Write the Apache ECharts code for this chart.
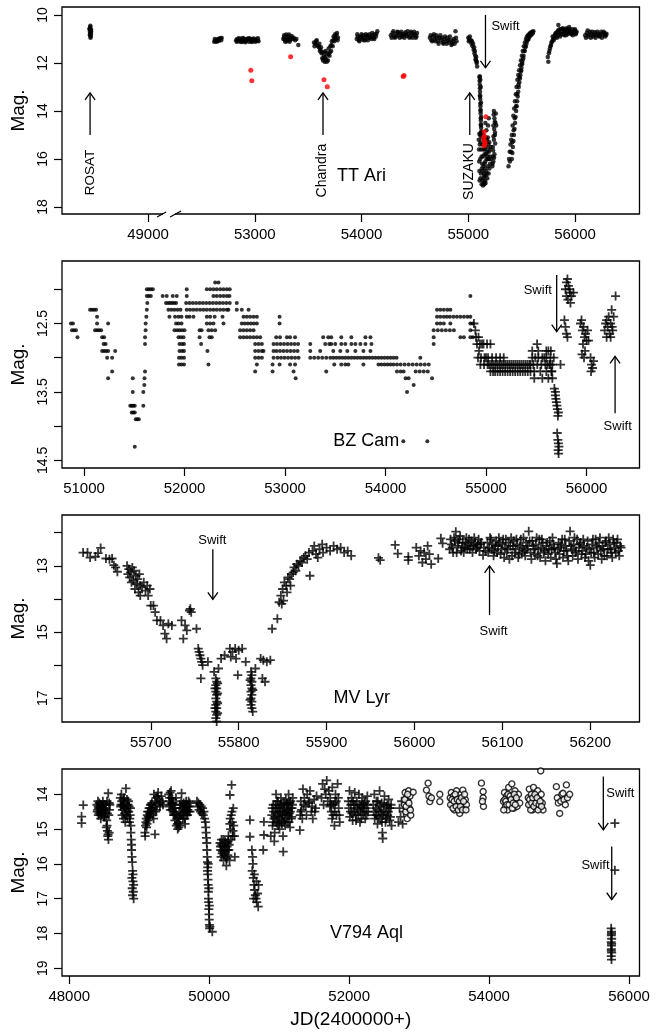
<!DOCTYPE html>
<html>
<head>
<meta charset="utf-8">
<script src="https://cdn.jsdelivr.net/npm/echarts@6/dist/echarts.min.js"></script>
<style>
html, body { margin: 0; padding: 0; background: #fff; }
#main { width: 661px; height: 1034px; }
</style>
</head>
<body>
<div id="main"></div>
<script>
// TT Ari (JD, mag)
var ttAri = [
  [48452,10.6],[48455,10.7],[48458,10.5],[48460,10.65],[48462,10.75],[48465,10.6],[48457,10.85],[48463,10.9],[48460,10.45],[48467,10.7],[48454,10.55],[48461,10.95],[48456,10.8],[48459,10.6],[48464,10.8],
  [52620,11.12],[52630,11.08],[52640,11.05],[52650,11.02],[52660,11.0],[52670,10.98],[52680,10.97],[52690,10.96],[52635,11.1],[52655,11.05],[52625,11.0],[52645,11.12],[52665,11.08],[52685,11.05],
  [52825,11.05],[52835,11.0],[52845,11.1],[52855,11.02],[52865,11.08],[52875,10.98],[52885,11.12],[52895,11.04],[52905,11.0],[52915,11.1],[52925,11.06],[52935,10.98],[52945,11.12],[52955,11.02],[52965,11.08],[52975,11.0],[52985,11.1],[52995,11.05],[53005,11.12],[53015,11.0],[53025,11.08],[53035,11.1],
  [52830,11.12],[52850,10.97],[52870,11.13],[52890,10.96],[52910,11.14],[52930,11.0],[52950,10.97],[52970,11.13],[52990,10.98],[53010,11.05],[53030,10.97],
  [53268,11.0],[53275,10.85],[53282,11.05],[53290,10.9],[53298,11.1],[53305,10.95],[53312,11.0],[53320,10.82],[53330,11.05],[53340,10.95],[53355,11.0],[53365,10.95],[53378,11.05],[53390,11.0],[53408,11.25],
  [53272,10.95],[53286,11.12],[53294,10.82],[53302,11.05],[53316,10.9],[53326,11.12],[53345,10.88],
  [53555,11.15],[53565,11.2],[53575,11.1],[53585,11.25],[53595,11.3],[53605,11.2],[53615,11.45],[53625,11.6],[53632,11.8],[53640,11.9],[53648,11.7],[53655,11.95],[53662,11.5],[53670,11.85],[53678,11.6],[53685,11.9],[53692,11.4],[53700,11.7],[53708,11.3],[53715,11.5],[53722,11.1],[53730,11.3],[53738,10.9],[53745,11.1],[53752,10.8],[53760,11.0],[53770,10.75],[53780,10.95],[53650,11.55],[53620,11.35],
  [53560,11.3],[53580,11.05],[53600,11.35],[53610,11.5],[53630,11.55],[53645,11.8],[53660,11.75],[53675,11.95],[53690,11.65],[53705,11.55],[53718,11.25],[53735,11.05],[53748,10.95],[53765,10.85],[53775,11.05],
  [53955,11.0],[53965,10.9],[53975,11.05],[53985,10.95],[53995,10.9],[54005,11.0],[54015,10.85],[54025,10.95],[54035,11.05],[54045,10.9],[54055,10.85],[54065,10.95],[54075,10.8],[54085,10.9],[54095,11.0],[54105,10.85],[54115,10.95],[54125,10.8],[54135,10.9],[54148,10.68],
  [53960,10.8],[53980,11.1],[54000,10.8],[54020,11.05],[54040,10.8],[54060,11.05],[54080,10.95],[54100,10.75],[54120,11.0],[54140,10.78],
  [54275,10.85],[54290,10.75],[54305,10.9],[54320,10.8],[54335,10.7],[54350,10.85],[54365,10.78],[54380,10.92],[54395,10.8],[54410,10.72],[54425,10.88],[54440,10.8],[54455,10.9],[54470,10.75],[54485,10.85],[54500,10.8],[54515,10.9],
  [54282,10.95],[54298,10.68],[54312,10.95],[54328,10.9],[54342,10.72],[54358,10.95],[54372,10.7],[54388,10.85],[54402,10.95],[54418,10.82],[54432,10.68],[54448,10.95],[54462,10.7],[54478,10.95],[54492,10.7],[54508,10.95],[54520,10.75],
  [54640,10.95],[54655,11.05],[54670,10.9],[54685,11.0],[54700,10.85],[54715,11.1],[54730,10.95],[54745,11.05],[54760,11.15],[54775,11.0],[54790,11.1],[54805,10.95],[54820,11.15],[54835,11.05],[54850,11.2],[54865,11.0],[54880,10.68],[54890,11.1],
  [54648,10.85],[54662,11.1],[54678,10.8],[54692,11.1],[54708,10.95],[54722,11.2],[54738,10.85],[54752,10.95],[54768,11.2],[54782,10.9],[54798,11.2],[54812,11.05],[54828,10.9],[54842,11.25],[54858,11.1],[54872,11.2],[54885,10.95],
  [55000,10.95],[55010,11.0],[55020,11.1],[55030,11.2],[55040,11.3],[55050,11.45],[55058,11.6],[55065,11.7],[55072,11.9],[55078,12.0],[55083,12.15],[55025,11.05],[55045,11.2],
  [55005,11.1],[55015,10.9],[55035,11.1],[55055,11.35],[55062,11.5],[55068,11.85],[55075,11.75],[55080,11.95],
  [55105,12.6],[55108,12.9],[55110,13.2],[55112,13.5],[55114,13.8],[55116,14.1],[55118,14.4],[55120,14.7],[55113,12.7],[55117,13.0],[55110,13.35],[55119,13.65],[55115,13.95],[55121,14.25],[55118,14.55],[55122,14.85],
  [55106,12.75],[55109,13.05],[55111,13.4],[55113,13.7],[55115,14.0],[55117,14.3],[55119,14.6],[55121,14.9],[55108,12.55],
  [55110,15.0],[55115,15.3],[55120,15.6],[55125,15.9],[55130,16.2],[55135,16.5],[55140,16.8],[55145,17.0],[55150,16.7],[55155,16.4],[55160,16.1],[55165,15.8],[55170,15.5],[55175,15.2],[55180,15.9],[55185,16.3],[55190,16.6],[55195,16.0],[55200,15.6],[55205,16.2],[55112,16.0],[55118,16.6],[55125,17.05],[55132,15.4],[55138,15.9],[55143,16.3],[55148,15.2],[55158,16.9],[55168,16.5],[55178,16.8],[55188,15.4],[55198,16.4],[55128,14.9],[55142,15.6],[55152,15.8],[55162,15.1],[55172,16.0],
  [55098,15.2],[55100,15.6],[55102,16.1],[55104,16.5],[55106,16.9],[55108,15.4],[55122,15.1],[55127,16.4],[55133,16.9],[55137,15.0],[55147,16.6],[55153,16.2],[55157,15.6],[55163,16.7],[55167,15.3],[55173,16.6],[55177,15.7],[55183,15.1],[55187,16.0],[55193,15.7],[55197,15.3],[55203,15.9],[55208,15.5],[55212,16.0],[55138,17.1],[55150,17.05],[55162,17.0],[55115,16.8],[55104,14.95],[55170,14.8],[55185,14.6],[55160,14.5],[55192,14.3],
  [55240,14.0],[55245,14.3],[55235,14.6],[55250,14.9],[55240,15.2],[55230,15.5],[55245,15.8],[55235,16.1],[55225,16.3],[55250,15.0],[55255,14.5],[55232,15.9],
  [55238,14.15],[55248,14.45],[55242,14.75],[55236,15.05],[55252,15.35],[55233,15.65],[55242,15.95],[55228,16.2],[55258,14.1],[55262,14.6],
  [55377,16.3],[55382,16.0],[55388,15.7],[55395,15.4],[55402,15.2],[55408,15.0],[55415,14.6],[55422,14.2],[55430,13.9],[55437,13.6],[55445,13.3],[55452,13.0],[55460,12.7],[55468,12.5],[55476,12.3],[55485,12.1],[55493,11.9],[55502,11.7],[55510,11.5],[55520,11.3],[55530,11.15],[55540,11.0],[55550,10.9],[55560,10.85],[55570,10.8],[55580,10.75],[55590,10.72],[55600,10.7],[55610,10.68],
  [55390,16.1],[55400,15.7],[55412,15.3],[55425,14.8],[55435,14.3],[55448,13.8],[55458,13.3],[55470,12.9],[55480,12.6],[55495,12.3],[55505,12.0],[55515,11.8],[55525,11.5],[55535,11.35],[55545,11.2],[55555,11.05],[55565,11.0],[55575,10.9],[55585,10.85],[55595,10.8],[55605,10.75],
  [55408,16.0],[55418,15.5],[55428,15.0],[55438,14.5],[55448,14.0],[55458,13.6],[55468,13.2],[55478,12.8],[55488,12.5],[55498,12.2],[55508,11.9],[55518,11.7],[55528,11.5],[55538,11.3],[55548,11.1],[55558,11.0],[55568,10.9],[55578,10.8],
  [55413,15.75],[55423,15.25],[55433,14.75],[55443,14.25],[55453,13.8],[55463,13.4],[55473,13.0],[55483,12.65],[55493,12.35],[55503,12.05],
  [55745,11.75],[55750,11.95],[55755,11.6],[55765,11.4],[55775,11.25],[55785,11.1],[55795,11.0],[55805,10.95],[55815,10.8],[55825,10.9],[55835,10.7],[55844,10.42],[55845,10.85],[55855,10.6],[55865,10.8],[55875,10.7],[55885,10.55],[55895,10.75],[55905,10.65],[55915,10.85],[55925,10.6],[55935,10.75],[55945,10.5],[55955,10.7],[55965,10.8],[55975,10.6],[55985,10.75],[55995,10.65],[56005,10.8],[56015,10.7],
  [55760,11.5],[55770,11.3],[55780,11.15],[55790,10.9],[55800,11.05],[55810,10.85],[55820,10.75],[55830,10.95],[55840,10.65],[55850,10.75],[55860,10.9],[55870,10.6],[55880,10.8],[55890,10.6],[55900,10.85],[55910,10.7],[55920,10.55],[55930,10.8],[55940,10.65],[55950,10.6],[55960,10.75],[55970,10.7],[55980,10.85],[55990,10.7],[56000,10.6],[56010,10.75],
  [56095,10.85],[56110,10.75],[56125,10.9],[56140,10.7],[56155,10.8],[56170,10.9],[56185,10.72],[56200,10.85],[56215,10.78],[56230,10.9],[56245,10.7],[56260,10.82],[56275,10.75],[56290,10.85],
  [56102,10.95],[56118,10.65],[56132,10.82],[56148,10.95],[56162,10.7],[56178,10.82],[56192,10.95],[56208,10.7],[56222,10.88],[56238,10.8],[56252,10.95],[56268,10.7],[56282,10.9],[56295,10.78]
];
var ttAriRed = [
  [52963,12.3],[52972,12.74],[53336,11.74],[53648,12.7],[53679,12.99],[54390,12.56],[54398,12.52],
  [55165,14.24],[55150,14.86],[55145,15.1],[55150,15.25],[55155,15.4],[55148,15.45],[55158,15.3],[55152,15.05]
];

// BZ Cam
var bzCamDots = [
  [50870,12.5],[50890,12.5],[50880,12.6],[50900,12.6],[50920,12.6],[50935,12.7],
  [51060,12.3],[51080,12.3],[51100,12.3],[51120,12.3],[51130,12.4],[51130,12.5],[51240,12.5],[51110,12.6],[51130,12.6],[51150,12.6],[51170,12.6],[51180,12.7],[51200,12.7],[51195,12.8],[51215,12.8],[51180,12.9],[51200,12.9],[51220,12.9],[51240,12.9],[51230,13.0],[51280,13.0],[51310,12.9],[51280,13.2],[51240,13.3],
  [51485,13.3],[51485,13.5],[51460,13.7],[51475,13.7],[51490,13.7],[51505,13.7],[51475,13.8],[51490,13.8],[51505,13.8],[51515,13.9],[51530,13.9],[51545,13.9],[51505,14.3],[51590,13.7],[51590,13.5],[51600,13.4],[51602,13.3],[51607,13.2],
  [51607,12.8],[51607,12.7],[51613,12.6],[51613,12.5],[51620,12.4],[51625,12.3],[51630,12.2],[51625,12.0],[51645,12.0],[51665,12.0],[51685,12.0],[51625,12.1],[51645,12.1],[51665,12.1],
  [51783,12.1],[51823,12.1],[51883,12.1],[51923,12.1],[51816,12.2],[51836,12.2],[51856,12.2],[51876,12.2],[51896,12.2],[51916,12.2],[51840,12.3],[51870,12.3],[51900,12.3],[51930,12.3],[51960,12.3],[51850,12.4],[51906,12.4],[51940,12.4],[51970,12.4],[51916,12.5],[51940,12.5],[51970,12.5],[51900,12.6],[51926,12.6],[51950,12.6],[51975,12.6],[52000,12.6],[51940,12.7],[51965,12.7],[51990,12.7],[51950,12.8],[51975,12.8],[51995,12.8],[51950,12.9],[51975,12.9],[51995,12.9],[51945,13.0],[51970,13.0],[51995,13.0],[51945,13.1],[51970,13.1],[51995,13.1],
  [52305,11.9],[52338,11.9],
  [52022,12.0],[52222,12.0],[52255,12.0],[52288,12.0],[52321,12.0],[52355,12.0],[52388,12.0],[52421,12.0],[52450,12.0],
  [52022,12.1],[52288,12.1],[52321,12.1],[52355,12.1],[52388,12.1],[52421,12.1],[52447,12.1],
  [52016,12.2],[52050,12.2],[52083,12.2],[52116,12.2],[52150,12.2],[52183,12.2],[52216,12.2],[52250,12.2],[52283,12.2],[52316,12.2],[52350,12.2],[52383,12.2],[52416,12.2],[52450,12.2],
  [52022,12.3],[52055,12.3],[52088,12.3],[52121,12.3],[52155,12.3],[52188,12.3],[52221,12.3],[52255,12.3],[52288,12.3],[52321,12.3],[52355,12.3],[52388,12.3],[52421,12.3],[52437,12.3],
  [52022,12.4],[52050,12.4],[52089,12.4],[52222,12.4],[52255,12.4],[52300,12.4],[52378,12.4],
  [52222,12.5],[52255,12.5],[52288,12.5],[52388,12.5],
  [52150,12.6],[52170,12.6],[52238,12.6],[52271,12.6],[52305,12.6],
  [52150,12.7],[52248,12.7],[52271,12.7],[52165,12.8],[52228,12.9],[52238,13.1],
  [52520,12.2],[52520,12.3],[52570,12.3],[52637,12.3],
  [52587,12.4],[52620,12.4],[52653,12.4],[52687,12.4],[52720,12.4],
  [52570,12.5],[52600,12.5],[52630,12.5],[52660,12.5],[52690,12.5],[52720,12.5],
  [52553,12.6],[52587,12.6],[52620,12.6],[52653,12.6],[52687,12.6],
  [52553,12.7],[52587,12.7],[52620,12.7],[52653,12.7],[52687,12.7],[52720,12.7],[52753,12.7],
  [52703,12.8],[52737,12.8],[52770,12.8],[52703,12.9],[52737,12.9],[52770,12.9],[52786,12.9],
  [52703,13.0],[52737,13.0],[52770,13.0],[52720,13.1],[52703,13.2],
  [52946,12.4],[52946,12.5],
  [52912,12.7],[52950,12.7],[53019,12.7],[53050,12.7],[53100,12.7],
  [52886,12.8],[52920,12.8],[52955,12.8],[52990,12.8],[53025,12.8],[53060,12.8],[53095,12.8],[53130,12.8],
  [52886,12.9],[52915,12.9],[52950,12.9],[52985,12.9],[53020,12.9],[53055,12.9],[53090,12.9],[53125,12.9],
  [52886,13.0],[52925,13.0],[52960,13.0],[52995,13.0],[53030,13.0],[53065,13.0],[53100,13.0],[53135,13.0],
  [52876,13.1],[52946,13.1],[53050,13.1],[53100,13.1],[52876,13.2],[53085,13.2],[53106,13.3],
  [53380,12.7],[53430,12.7],[53251,12.8],[53400,12.8],[53440,12.8],[53251,12.9],[53350,12.9],
  [53251,13.0],[53290,13.0],[53330,13.0],[53370,13.0],[53410,13.0],[53450,13.0],[53410,13.2],
  [53460,12.7],[53560,12.7],[53660,12.7],[53800,12.7],[53850,12.7],
  [53460,12.8],[53500,12.8],[53560,12.8],[53600,12.8],[53660,12.8],[53700,12.8],[53750,12.8],[53800,12.8],[53860,12.8],
  [53480,12.9],[53550,12.9],[53620,12.9],[53700,12.9],[53780,12.9],[53850,12.9],
  [53480,13.0],[53510,13.0],[53540,13.0],[53570,13.0],[53600,13.0],[53630,13.0],[53660,13.0],[53690,13.0],[53720,13.0],[53750,13.0],[53780,13.0],[53810,13.0],[53840,13.0],[53870,13.0],[53900,13.0],[53930,13.0],[53960,13.0],[53990,13.0],[54020,13.0],[54050,13.0],[54080,13.0],[54110,13.0],[54346,13.0],
  [53490,13.1],[53560,13.1],[53600,13.1],[53630,13.1],[53780,13.1],[53930,13.1],[53960,13.1],[53990,13.1],[54020,13.1],[54050,13.1],[54080,13.1],[54114,13.1],[54150,13.1],[54190,13.1],[54230,13.1],[54270,13.1],[54310,13.1],[54350,13.1],[54390,13.1],[54430,13.1],
  [54114,13.2],[54150,13.2],[54180,13.2],[54300,13.2],[54340,13.2],[54380,13.2],[54420,13.2],
  [54200,13.3],[54230,13.3],[54463,13.3],[54280,13.4],[54214,13.5],
  [54177,14.22],[54416,14.22],
  [54844,12.1],
  [54512,12.3],[54545,12.3],[54580,12.3],[54615,12.3],[54645,12.3],
  [54512,12.4],[54545,12.4],[54580,12.4],[54610,12.4],[54640,12.4],[54675,12.4],[54710,12.4],[54745,12.4],[54780,12.4],[54815,12.4],[54844,12.4],
  [54512,12.5],[54545,12.5],[54580,12.5],[54645,12.5],[54844,12.5],[54870,12.5],
  [54479,12.6],[54520,12.6],[54560,12.6],[54600,12.6],[54640,12.6],[54680,12.6],[54844,12.6],
  [54479,12.7],[54745,12.7],[54780,12.7],[54844,12.7],[54870,12.7],[54479,12.8]
];
var bzCamPlus = [
  [54894,12.6],[54880,12.5],[54900,12.7],
  [54910,12.8],[54940,12.8],[54975,12.8],[55010,12.8],[55044,12.8],[54930,12.9],[54960,12.8],[54925,12.7],
  [54920,13.0],[54950,13.0],[54985,13.0],[55020,13.0],[55060,13.0],[55100,13.0],[55140,13.0],[55176,13.0],[55000,13.0],
  [54944,13.1],[54980,13.1],[55015,13.1],[55050,13.1],[55090,13.1],[55130,13.1],[55170,13.1],[55210,13.1],[55250,13.1],[55290,13.1],[55330,13.1],[55370,13.1],[55410,13.1],[55442,13.1],
  [55030,13.1],[55070,13.1],[55110,13.1],[55150,13.1],[55190,13.1],[55230,13.1],[55270,13.1],[55310,13.1],[55350,13.1],[55390,13.1],[55430,13.1],
  [55044,13.2],[55090,13.2],[55140,13.2],[55190,13.2],[55240,13.2],[55290,13.2],[55340,13.2],[55390,13.2],[55442,13.2],
  [55070,13.2],[55115,13.2],[55165,13.2],[55215,13.2],[55265,13.2],[55315,13.2],[55365,13.2],[55415,13.2],
  [55460,13.0],[55490,13.0],[55520,13.0],[55560,13.0],[55600,13.0],[55640,13.0],[55674,13.0],[55580,13.0],
  [55470,13.1],[55510,13.1],[55550,13.1],[55590,13.1],[55630,13.1],[55660,13.1],[55610,13.1],[55640,13.1],
  [55480,13.2],[55540,13.2],[55600,13.2],[55650,13.2],[55655,13.2],[55508,12.8],[55480,13.3],[55560,13.3],[55620,13.3],[55660,13.3],[55741,13.1],
  [55460,12.9],[55520,12.9],[55620,12.9],[55600,12.9],[55645,12.9],
  [55680,13.45],[55690,13.5],[55695,13.6],[55700,13.65],[55705,13.7],[55710,13.75],[55715,13.85],[55720,13.8],[55690,13.55],
  [55708,14.1],[55715,14.2],[55720,14.25],[55725,14.3],[55718,14.35],[55722,14.4],
  [55800,11.9],[55810,11.85],[55820,11.95],[55790,12.0],[55830,12.0],[55835,12.05],[55800,12.1],[55815,12.15],[55840,12.2],[55850,12.1],[55870,12.05],
  [55780,12.45],[55790,12.55],[55800,12.65],[55810,12.7],
  [55940,12.5],[55950,12.45],[55960,12.6],[55970,12.55],[55980,12.7],[55990,12.65],[56000,12.75],[55965,12.8],[55985,12.9],[56010,12.6],[56020,12.75],[55955,12.95],[55975,13.0],
  [56040,13.0],[56050,13.1],[56060,13.15],[56045,13.2],[56070,13.05],
  [56180,12.6],[56190,12.5],[56200,12.45],[56210,12.55],[56220,12.4],[56230,12.65],[56240,12.5],[56250,12.3],[56260,12.6],[56270,12.4],[56289,12.1],[56200,12.7],[56240,12.7],[56255,12.55]
];

// MV Lyr
var mvLyr = [
  [55623,12.6],[55628,12.6],[55631,12.75],[55637,12.72],[55640,12.62],[55643,12.46],[55649,12.78],[55653,12.8],[55656,12.78],[55658,12.98],[55662,13.18],[55660,13.05],
  [55673,13.0],[55675,13.1],[55677,13.2],[55679,13.05],[55681,13.15],[55683,13.3],[55685,13.4],[55676,13.35],[55680,13.45],[55684,13.55],[55688,13.6],[55682,13.7],[55686,13.8],[55690,13.65],[55692,13.5],[55688,13.9],[55678,13.5],[55694,13.75],[55696,13.6],[55699,13.7],[55697,13.9],[55674,13.25],[55687,13.25],
  [55700,14.2],[55703,14.2],[55705,14.4],[55707,14.65],[55711,14.65],[55714,14.8],[55716,15.05],[55718,15.2],[55724,14.8],[55720,14.75],
  [55735,14.65],[55737,15.2],[55739,14.8],[55741,14.95],[55745,14.3],[55746,14.4],[55744,14.35],[55752,14.9],
  [55754,15.5],[55755,15.6],[55756,15.7],[55757,15.8],[55758,15.9],[55759,16.0],[55757,16.4],[55765,15.9],[55772,16.2],[55777,16.1],
  [55774,16.4],[55775,16.5],[55774,16.6],[55775,16.7],[55774,16.8],[55775,16.9],[55774,17.0],[55775,17.1],[55774,17.2],[55775,17.3],[55774,17.4],[55775,17.5],[55774,17.6],[55775,17.7],[55776,16.55],[55776,16.85],[55776,17.15],[55776,17.45],[55773,16.7],[55773,17.3],
  [55780,15.8],[55784,15.7],[55790,15.5],[55793,15.6],[55796,15.5],[55800,15.55],[55804,15.5],[55797,15.8],[55791,15.75],[55799,16.3],[55808,15.9],
  [55814,16.2],[55815,16.3],[55814,16.4],[55815,16.5],[55814,16.6],[55815,16.7],[55814,16.8],[55815,16.9],[55814,17.0],[55815,17.1],[55814,17.2],[55815,17.3],[55816,17.4],[55813,16.45],[55816,16.75],[55813,17.05],
  [55819,16.1],[55825,15.8],[55828,15.85],[55832,15.9],[55836,15.85],[55827,16.4],[55830,16.5],
  [55838,14.9],[55844,14.6],[55846,14.1],[55849,14.15],[55851,14.05],[55848,13.9],[55850,13.7],[55852,13.5],[55854,13.6],[55856,13.35],[55858,13.4],[55860,13.25],[55862,13.2],[55855,13.8],[55859,13.6],[55863,13.05],[55866,12.95],[55868,13.0],[55870,12.85],[55872,12.9],[55874,12.75],[55865,13.15],[55881,13.3],[55876,12.7],[55880,12.6],[55884,12.55],[55888,12.65],[55892,12.5],[55896,12.6],[55900,12.45],[55904,12.55],[55886,12.4],[55895,12.35],[55878,12.8],[55890,12.75],
  [55908,12.4],[55912,12.5],[55916,12.45],[55920,12.6],[55924,12.55],[55928,12.7],[55959,12.76],[55961,12.83],[55978,12.37],[55981,12.63],[55993,12.73],[55993,12.83],
  [56002,12.45],[56005,12.7],[56007,12.55],[56009,12.9],[56011,12.6],[56013,12.8],[56015,12.4],[56017,12.65],[56019,12.95],[56027,12.78],[56030,12.17],[56032,12.32],
  [56040,12.5],[56042,12.35],[56044,12.6],[56046,12.25],[56047,11.97],[56049,12.4],[56051,12.2],[56053,12.55],[56055,12.3],[56057,12.45],[56059,12.15],[56061,12.35],[56063,12.5],[56065,12.25],[56067,12.4],[56069,12.3],[56071,12.45],[56073,12.2],[56075,12.35],[56078,12.68],
  [56041,12.2],[56043,12.45],[56045,12.15],[56048,12.6],[56050,12.3],[56052,12.1],[56054,12.45],[56056,12.6],[56058,12.3],[56060,12.5],[56062,12.2],[56064,12.4],[56066,12.6],[56068,12.15],[56070,12.5],[56072,12.35],[56074,12.55],[56076,12.3],[56079,12.45],[56081,12.55],
  [56083,12.3],[56085,12.45],[56087,12.2],[56089,12.35],[56091,12.55],[56093,12.25],[56095,12.4],[56097,12.3],[56099,12.5],[56101,12.2],[56103,12.45],[56105,12.6],[56107,12.3],[56109,12.4],[56111,12.7],[56113,12.25],[56115,12.5],[56117,12.35],[56119,12.65],[56121,12.2],[56123,12.45],[56125,12.55],[56127,12.3],[56129,12.4],[56130,11.96],[56132,12.6],[56134,12.25],[56136,12.5],[56138,12.35],[56140,12.7],[56142,12.2],[56144,12.45],[56146,12.3],[56148,12.55],[56150,12.4],[56152,12.65],[56154,12.25],[56156,12.5],[56158,12.35],[56160,12.6],[56162,12.93],[56164,12.3],[56166,12.45],[56168,12.2],[56170,12.55],[56172,12.4],[56174,12.7],[56176,12.25],[56177,11.96],[56179,12.5],[56181,12.35],[56183,12.6],[56185,12.2],[56187,12.45],[56189,12.3],[56191,12.55],[56193,12.4],[56195,12.65],[56197,12.25],[56199,12.5],[56200,12.98],[56202,12.35],[56204,12.6],[56206,12.2],[56208,12.45],[56210,12.3],[56212,12.55],[56214,12.4],[56216,12.7],[56218,12.25],[56220,12.5],[56222,12.35],[56224,12.6],[56226,12.2],[56228,12.45],[56230,12.3],[56232,12.55],[56234,12.4],
  [56084,12.6],[56086,12.15],[56088,12.5],[56090,12.7],[56092,12.4],[56094,12.6],[56096,12.15],[56098,12.65],[56100,12.35],[56102,12.75],[56104,12.2],[56106,12.5],[56108,12.8],[56110,12.15],[56112,12.4],[56114,12.6],[56116,12.2],[56118,12.75],[56120,12.4],[56122,12.6],[56124,12.15],[56126,12.7],[56128,12.5],[56131,12.25],[56133,12.8],[56135,12.4],[56137,12.65],[56139,12.15],[56141,12.5],[56143,12.75],[56145,12.2],[56147,12.6],[56149,12.85],[56151,12.3],[56153,12.5],[56155,12.75],[56157,12.15],[56159,12.45],[56161,12.8],[56163,12.5],[56165,12.65],[56167,12.35],[56169,12.75],[56171,12.2],[56173,12.55],[56175,12.85],[56178,12.4],[56180,12.7],[56182,12.15],[56184,12.55],[56186,12.8],[56188,12.35],[56190,12.65],[56192,12.2],[56194,12.75],[56196,12.45],[56198,12.85],[56201,12.6],[56203,12.2],[56205,12.75],[56207,12.4],[56209,12.65],[56211,12.15],[56213,12.8],[56215,12.5],[56217,12.3],[56219,12.7],[56221,12.15],[56223,12.5],[56225,12.75],[56227,12.3],[56229,12.6],[56231,12.2],[56233,12.7],[56235,12.45]
];

// V794 Aql
var v794Plus = [
  [48176,14.64],[48176,14.83],[48200,14.31],
  [48395,14.3],[48405,14.45],[48415,14.35],[48425,14.55],[48435,14.4],[48445,14.3],[48455,14.6],[48465,14.45],[48475,14.35],[48485,14.5],[48495,14.65],[48505,14.4],[48515,14.55],[48525,14.3],[48540,14.2],[48557,13.97],[48570,14.25],[48580,14.3],[48535,14.75],[48540,14.9],[48545,15.05],[48550,15.2],[48560,15.3],[48570,15.1],[48530,14.95],[48555,15.15],[48415,14.6],[48450,14.7],
  [48400,14.5],[48410,14.2],[48420,14.4],[48430,14.25],[48440,14.5],[48460,14.3],[48470,14.55],[48480,14.2],[48490,14.4],[48500,14.3],[48510,14.65],[48520,14.45],[48545,14.55],[48565,14.6],[48575,14.45],
  [48730,14.1],[48740,14.3],[48750,14.2],[48760,14.45],[48770,14.15],[48780,14.35],[48790,14.55],[48800,14.25],[48810,13.83],[48820,14.4],[48830,14.65],[48840,14.3],[48850,14.5],[48860,14.8],[48870,14.6],[48880,14.9],[48755,14.6],[48775,14.7],[48800,14.8],[48845,14.2],
  [48735,14.35],[48745,14.0],[48765,14.3],[48785,14.1],[48795,14.4],[48815,14.6],[48825,14.15],[48835,14.5],[48855,14.35],[48865,14.7],[48875,14.4],
  [48880,15.1],[48885,15.3],[48890,15.6],[48895,15.8],[48900,15.95],[48905,16.2],[48895,16.4],[48910,16.5],[48900,16.7],[48915,16.8],[48905,16.9],[48920,17.0],[48910,16.3],[48890,15.45],[48920,16.6],
  [49081,15.1],[49085,15.2],[49095,14.8],[49105,14.95],[49115,14.6],[49125,14.75],[49135,14.5],[49145,14.65],[49155,14.4],[49165,14.55],[49175,14.3],[49185,14.45],[49195,14.6],[49205,14.7],[49215,14.35],[49225,15.15],[49235,14.5],[49245,14.45],
  [49090,14.9],[49100,14.7],[49110,14.85],[49120,14.5],[49130,14.65],[49140,14.4],[49150,14.55],[49160,14.3],[49170,14.5],[49180,14.25],[49190,14.4],
  [49210,14.0],[49225,14.2],[49240,14.1],[49255,14.3],[49270,13.95],[49285,14.15],[49300,14.25],[49315,14.05],[49330,14.2],[49340,14.3],[49260,14.05],[49295,14.35],
  [49420,14.0],[49430,14.2],[49440,13.95],[49450,14.3],[49460,14.1],[49470,14.45],[49480,14.25],[49490,14.6],[49500,14.4],[49510,14.75],[49520,14.55],[49530,14.9],[49540,14.7],[49550,15.0],[49560,14.8],[49570,14.5],[49580,14.3],[49590,14.6],[49600,14.2],[49605,13.97],[49615,14.4],[49625,14.7],[49635,14.25],[49645,14.5],[49655,14.85],[49665,14.35],[49675,14.6],[49685,14.3],[49695,14.45],[49705,14.2],[49715,14.35],[49725,14.5],[49455,13.9],[49525,14.1],[49585,14.9],
  [49425,14.35],[49435,14.1],[49445,14.45],[49465,14.25],[49475,14.15],[49485,14.5],[49495,14.3],[49505,14.6],[49515,14.4],[49535,14.6],[49545,14.85],[49555,14.65],[49565,14.95],[49575,14.7],[49595,14.4],[49610,14.55],[49620,14.3],[49630,14.6],[49640,14.35],[49650,14.7],[49660,14.5],[49670,14.2],[49680,14.45],[49690,14.6],[49700,14.35],[49710,14.5],[49720,14.25],
  [49825,14.2],[49835,14.35],[49845,14.25],[49855,14.45],[49865,14.3],[49875,14.5],[49885,14.35],[49895,14.55],[49905,14.4],[49915,14.6],[49925,14.5],[49935,14.7],
  [49945,14.8],[49950,14.95],[49955,15.1],[49960,15.25],[49965,15.4],[49968,15.6],[49972,15.8],[49975,15.95],[49978,16.1],[49980,16.3],[49983,16.45],[49985,16.6],[49988,16.8],[49990,17.0],[49992,17.1],[49995,17.3],[49998,17.45],[50000,17.6],[50003,17.75],[50006,17.85],[50010,17.8],[50044,17.95],[49976,16.2],[49986,16.0],[49994,16.7],[50002,17.2],
  [50155,15.4],[50165,15.6],[50175,15.3],[50185,15.7],[50195,15.5],[50205,15.9],[50215,15.6],[50225,15.35],[50235,15.8],[50245,16.05],[50255,15.5],[50265,15.75],[50275,15.2],[50285,15.45],[50295,14.85],[50296,14.02],[50305,15.0],[50315,14.6],[50320,13.73],[50330,14.8],[50340,15.05],[50344,14.4],[50310,15.3],[50290,15.9],[50366,15.8],[50350,14.9],[50360,15.2],
  [50160,15.5],[50170,15.8],[50180,15.45],[50190,15.65],[50200,15.3],[50210,15.75],[50220,15.5],[50230,15.65],[50240,15.4],[50250,15.85],[50260,15.6],[50270,15.35],[50280,15.6],[50300,14.7],[50325,14.5],[50335,15.2],
  [50582,14.74],[50582,15.22],
  [50610,15.6],[50620,15.8],[50625,16.0],[50615,16.2],[50630,16.4],[50640,16.6],[50650,16.75],[50660,16.9],[50670,17.0],[50680,17.1],[50700,17.23],[50690,16.85],[50705,16.6],[50645,16.3],[50635,17.0],[50675,16.5],
  [50782,14.79],[50782,15.17],[50772,15.6],
  [50895,14.6],[50905,14.9],[50915,14.3],[50925,14.7],[50935,15.1],[50945,14.4],[50955,14.0],[50965,14.55],[50975,14.85],[50985,14.2],[50995,14.65],[51005,15.0],[51015,14.35],[51025,14.1],[51035,14.75],[51045,14.5],[51055,15.2],[51058,15.65],[51065,14.25],[51075,14.6],[51085,14.9],[51095,14.15],[51105,14.45],[51115,14.8],[51125,14.3],[51135,14.0],[51145,14.55],[51155,14.95],[51165,14.2],[51175,14.7],[51185,14.4],[51195,14.1],[50880,15.2],[50930,15.35],
  [50900,14.4],[50910,14.8],[50920,14.5],[50940,14.65],[50950,14.3],[50960,14.8],[50970,14.2],[50980,14.5],[50990,14.9],[51000,14.4],[51010,14.7],[51020,14.5],[51030,14.3],[51040,14.85],[51050,14.6],[51060,14.4],[51070,14.8],[51080,14.3],[51090,14.55],[51100,14.7],[51110,14.25],[51120,14.6],[51130,14.45],[51140,14.8],[51150,14.25],[51160,14.5],[51170,14.4],[51180,14.65],[51190,14.3],
  [51296,15.03],[51300,14.6],[51310,14.2],[51320,14.45],[51340,13.85],[51360,14.1],[51380,14.35],[51400,14.0],[51420,14.25],[51440,13.9],[51460,14.5],[51480,14.7],[51500,14.15],[51520,14.4],[51534,14.05],[51330,14.7],
  [51310,14.5],[51350,14.3],[51390,14.6],[51430,14.2],[51470,14.35],[51510,14.5],
  [51605,14.1],[51620,13.7],[51635,14.3],[51650,13.85],[51665,14.0],[51680,13.6],[51695,14.2],[51710,13.9],[51725,14.35],
  [51730,14.1],[51745,14.5],[51760,13.8],[51775,14.3],[51790,14.9],[51805,14.0],[51820,14.6],[51835,13.7],[51850,14.4],[51865,14.8],[51755,14.7],[51800,14.25],
  [51740,14.3],[51770,14.6],[51795,14.5],[51815,14.2],[51845,14.1],[51860,14.6],
  [51990,14.2],[52005,13.9],[52020,14.5],[52035,14.1],[52050,14.75],[52065,14.3],[52080,13.95],[52095,14.6],[52110,14.2],[52125,14.45],[52140,14.0],[52155,14.8],[52170,14.35],[52185,14.1],[52200,14.55],[52215,14.25],[52230,14.7],[52245,14.4],[52260,14.05],[52272,14.5],
  [51995,14.4],[52010,14.65],[52025,14.3],[52040,14.55],[52055,14.2],[52070,14.5],[52085,14.3],[52100,14.75],[52115,14.4],[52130,14.6],[52145,14.3],[52160,14.5],[52175,14.7],[52190,14.4],[52205,14.3],[52220,14.5],[52235,14.2],[52250,14.6],[52265,14.3],
  [52345,14.3],[52360,14.0],[52375,14.6],[52390,14.2],[52405,14.85],[52420,14.45],[52435,13.9],[52450,14.7],[52465,14.25],[52475,15.1],[52480,15.27],[52490,14.5],[52505,14.05],[52520,14.8],[52535,14.35],[52550,14.6],[52565,14.15],[52580,14.75],[52595,14.4],[52606,14.9],
  [52350,14.5],[52365,14.7],[52380,14.4],[52395,14.6],[52410,14.2],[52425,14.65],[52440,14.35],[52455,14.5],[52470,14.8],[52485,14.6],[52500,14.3],[52515,14.55],[52530,14.7],[52545,14.3],[52560,14.5],[52575,14.4],[52590,14.65],[52600,14.3],
  [52705,14.8],[52720,14.4],[52735,14.65],[52750,14.2],[52765,14.85],[52780,14.5],
  [55798,14.83],[55798,16.18],
  [55745,17.85],[55750,17.95],[55748,18.05],[55752,18.15],[55746,18.25],[55750,18.35],[55748,18.45],[55752,18.55],[55746,18.65],[55750,18.75],[55749,18.0],[55751,18.3],[55747,18.5]
];
var v794Circ = [
  [52790,14.3],[52800,13.95],[52810,14.5],[52820,14.1],[52830,14.7],[52840,14.2],[52850,13.9],[52860,14.4],[52870,14.05],[52880,14.6],[52915,13.94],
  [52795,14.15],[52815,14.35],[52835,14.0],[52855,14.25],[52875,14.45],
  [53105,13.88],[53129,13.68],[53153,14.21],[53140,14.05],[53176,14.1],[53296,14.0],[53296,14.21],
  [53445,14.1],[53460,13.95],[53475,14.3],[53490,14.05],[53505,14.45],[53520,14.2],[53535,13.9],[53550,14.35],[53565,14.1],[53580,14.55],[53595,14.0],[53610,14.25],[53625,13.88],[53640,14.4],[53660,14.15],[53677,14.3],
  [53450,14.3],[53470,14.15],[53485,14.4],[53500,14.2],[53515,14.0],[53530,14.35],[53545,14.15],[53560,14.45],[53575,14.2],[53590,14.35],[53605,14.1],[53620,14.45],[53635,14.2],[53650,14.0],[53670,14.45],
  [53891,13.68],[53915,13.92],[53915,14.1],[53920,14.35],[53905,14.2],
  [54205,14.2],[54220,13.95],[54235,14.35],[54250,14.05],[54265,14.45],[54280,13.8],[54295,14.15],[54310,14.3],[54325,13.7],[54340,14.1],[54355,14.4],[54370,13.9],[54385,14.2],[54400,14.35],[54420,14.0],[54438,14.25],
  [54210,14.45],[54225,14.15],[54240,14.2],[54255,14.3],[54270,14.0],[54285,14.3],[54300,14.05],[54315,14.15],[54330,14.4],[54345,14.25],[54360,14.0],[54375,14.3],[54390,14.1],
  [54560,14.1],[54575,13.85],[54590,14.3],[54605,14.0],[54620,14.45],[54635,13.8],[54650,14.2],[54665,14.05],[54680,14.35],[54695,13.9],[54710,14.15],[54725,14.4],[54738,13.33],[54745,14.0],[54760,14.25],[54771,14.45],
  [54565,14.3],[54580,14.15],[54595,14.45],[54610,14.25],[54625,14.1],[54640,14.35],[54655,14.0],[54670,14.25],[54685,14.1],[54700,14.45],[54715,14.3],[54730,14.2],[54750,14.35],
  [54962,13.78],[54975,14.1],[54990,14.25],[55009,14.55],[55025,14.2],[55040,14.0],[55057,13.97],[55070,14.15],[55090,14.3],[55105,13.73],[55120,14.1],[55152,14.0]
];

// tick values
var ttAriTicks = [49000, 50000, 51000, 52000, 53000];   // 50000.. are JD-3000 (axis break)
var ttAriYTicks = [10, 12, 14, 16, 18];
var bzCamXTicks = [51000, 52000, 53000, 54000, 55000, 56000];
var bzCamYTicks = [12, 12.5, 13, 13.5, 14, 14.5];
var bzCamYLabels = [12.5, 13.5, 14.5];
var mvLyrXTicks = [55700, 55800, 55900, 56000, 56100, 56200];
var mvLyrYTicks = [12, 13, 14, 15, 16, 17];
var mvLyrYLabels = [13, 15, 17];
var v794XTicks = [48000, 50000, 52000, 54000, 56000];
var v794YTicks = [14, 15, 16, 17, 18, 19];

var FONT = '"Liberation Sans", Arial, Helvetica, sans-serif';
var CROSS = 'path://M4,0H6V4H10V6H6V10H4V6H0V4H4Z';

// 轴断开：JD > 50000 的点左移 3000 天
function tx(jd) { return jd > 50000 ? jd - 3000 : jd; }

function xAxisCfg(i, min, max, ticks, fmt) {
    return {
        type: 'value', gridIndex: i, min: min, max: max,
        axisLine: { show: false }, splitLine: { show: false },
        axisTick: { show: true, length: 8, customValues: ticks, lineStyle: { color: '#000', width: 1.2 } },
        axisLabel: { customValues: ticks, margin: 13, fontSize: 15, color: '#000', fontFamily: FONT, formatter: fmt || function(v) { return String(v); } }
    };
}
function yAxisCfg(i, min, max, ticks, labels) {
    return {
        type: 'value', gridIndex: i, inverse: true, min: min, max: max,
        name: 'Mag.', nameLocation: 'middle', nameRotate: 90, nameGap: 33,
        nameTextStyle: { fontSize: 19, color: '#000', fontFamily: FONT },
        axisLine: { show: false }, splitLine: { show: false },
        axisTick: { show: true, length: 8, customValues: ticks, lineStyle: { color: '#000', width: 1.2 } },
        axisLabel: { customValues: labels, rotate: 90, margin: 12, fontSize: 14, color: '#000', fontFamily: FONT }
    };
}

var xAxes = [
    xAxisCfg(0, 48194, 53604, ttAriTicks, function(v) { return String(v > 49500 ? v + 3000 : v); }),
    xAxisCfg(1, 50781, 56527, bzCamXTicks),
    xAxisCfg(2, 55599, 56256, mvLyrXTicks),
    xAxisCfg(3, 47896, 56150, v794XTicks)
];
xAxes[3].name = 'JD(2400000+)';
xAxes[3].nameLocation = 'middle';
xAxes[3].nameGap = 34;
xAxes[3].nameTextStyle = { fontSize: 19, color: '#000', fontFamily: FONT };

var gridStyle = { show: true, borderColor: '#000', borderWidth: 1.3, backgroundColor: 'transparent', outerBoundsMode: 'none' };
function gridAt(top) {
    return Object.assign({ left: 62, width: 577.5, top: top, height: 207 }, gridStyle);
}

function dots(i, data, size, color) {
    return { type: 'scatter', xAxisIndex: i, yAxisIndex: i, data: data, symbol: 'circle', symbolSize: size, itemStyle: { color: color }, silent: true };
}
function crosses(i, data) {
    return { type: 'scatter', xAxisIndex: i, yAxisIndex: i, data: data, symbol: CROSS, symbolSize: 9, itemStyle: { color: '#000' }, silent: true };
}

var chart = echarts.init(document.getElementById('main'));
chart.setOption({
    animation: false,
    grid: [gridAt(7), gridAt(261), gridAt(515), gridAt(769)],
    xAxis: xAxes,
    yAxis: [
        yAxisCfg(0, 9.67, 18.29, ttAriYTicks, ttAriYTicks),
        yAxisCfg(1, 11.587, 14.611, bzCamYTicks, bzCamYLabels),
        yAxisCfg(2, 11.466, 17.716, mvLyrYTicks, mvLyrYLabels),
        yAxisCfg(3, 13.273, 19.221, v794YTicks, v794YTicks)
    ],
    series: [
        dots(0, ttAri.map(function(p) { return [tx(p[0]), p[1]]; }), 4.5, '#000'),
        dots(0, ttAriRed.map(function(p) { return [tx(p[0]), p[1]]; }), 5, '#ff0000'),
        dots(1, bzCamDots, 4, '#000'),
        crosses(1, bzCamPlus),
        crosses(2, mvLyr),
        crosses(3, v794Plus),
        { type: 'scatter', xAxisIndex: 3, yAxisIndex: 3, data: v794Circ, symbol: 'circle', symbolSize: 6,
          itemStyle: { color: '#fff', borderColor: '#000', borderWidth: 1.4 }, silent: true }
    ]
});

//注释：箭头和文字
function px(g, x, y) {
    if (g === 0) x = tx(x);
    return chart.convertToPixel({ gridIndex: g }, [x, y]);
}
function arrow(g, x, y1, y2) {
    var a = px(g, x, y1), b = px(g, x, y2);
    var d = b[1] > a[1] ? 1 : -1;
    var ls = { stroke: '#000', lineWidth: 1.3, fill: null };
    return [
        { type: 'line', shape: { x1: a[0], y1: a[1], x2: b[0], y2: b[1] }, style: ls },
        { type: 'polyline', shape: { points: [[b[0] - 5, b[1] - d * 7], [b[0], b[1]], [b[0] + 5, b[1] - d * 7]] }, style: ls }
    ];
}
function label(g, x, y, text, size, align, rotate) {
    var p = px(g, x, y);
    return { type: 'text', x: p[0], y: p[1], rotation: rotate ? Math.PI / 2 : 0,
        style: { text: text, fontSize: size, fontFamily: FONT, fill: '#000', align: align || 'center', verticalAlign: 'middle' } };
}

var g = [];
// TT Ari
g = g.concat(arrow(0, 48457, 15.0, 13.25), arrow(0, 53639, 15.0, 13.25), arrow(0, 55014, 15.0, 13.25), arrow(0, 55161, 10.0, 12.2));
g.push(label(0, 48462, 16.56, 'ROSAT', 13.5, 'center', true));
g.push(label(0, 53627, 16.48, 'Chandra', 14, 'center', true));
g.push(label(0, 55009, 16.52, 'SUZAKU', 14, 'center', true));
g.push(label(0, 55217, 10.49, 'Swift', 13, 'left'));
g.push(label(0, 53770, 16.7, 'TT Ari', 18, 'left'));
// BZ Cam
g = g.concat(arrow(1, 55703, 11.79, 12.62), arrow(1, 56284, 13.81, 12.98));
g.push(label(1, 55655, 12.01, 'Swift', 13, 'right'));
g.push(label(1, 56310, 14.0, 'Swift', 13, 'center'));
g.push(label(1, 53481, 14.21, 'BZ Cam', 18, 'left'));
// MV Lyr
g = g.concat(arrow(2, 55770.6, 12.5, 14.01), arrow(2, 56085.4, 14.49, 13.0));
g.push(label(2, 55770, 12.22, 'Swift', 13, 'center'));
g.push(label(2, 56090, 14.99, 'Swift', 13, 'center'));
g.push(label(2, 55908, 16.98, 'MV Lyr', 18, 'left'));
// V794 Aql
g = g.concat(arrow(3, 55633, 13.49, 15.02), arrow(3, 55753, 15.5, 17.03));
g.push(label(3, 55675, 13.97, 'Swift', 13, 'left'));
g.push(label(3, 55722, 16.04, 'Swift', 13, 'right'));
g.push(label(3, 51726, 17.98, 'V794 Aql', 18, 'left'));

// TT Ari 横轴断开标记
var bp = px(0, 49197, 18.29);
g.push({ type: 'rect', shape: { x: bp[0] - 6, y: bp[1] - 3, width: 12, height: 6 }, style: { fill: '#fff' } });
g.push({ type: 'line', shape: { x1: bp[0] - 12, y1: bp[1] + 3, x2: bp[0] - 3, y2: bp[1] - 2 }, style: { stroke: '#000', lineWidth: 1.2 } });
g.push({ type: 'line', shape: { x1: bp[0] + 1, y1: bp[1] + 3, x2: bp[0] + 12, y2: bp[1] - 3 }, style: { stroke: '#000', lineWidth: 1.2 } });

chart.setOption({ graphic: g });
</script>
</body>
</html>
